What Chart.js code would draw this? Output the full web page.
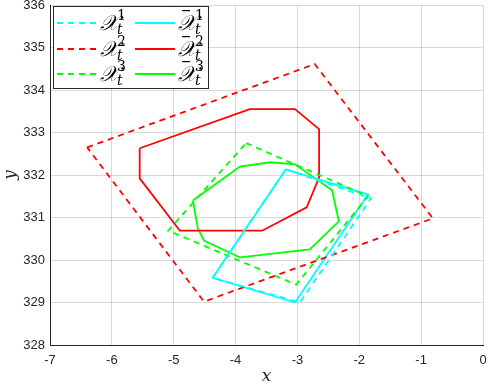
<!DOCTYPE html>
<html>
<head>
<meta charset="utf-8">
<script src="https://cdn.jsdelivr.net/npm/chart.js@4"></script>
<style>
  html, body { margin: 0; padding: 0; background: #fff; }
  #wrap { width: 488px; height: 387px; }
</style>
</head>
<body>
<div id="wrap"><canvas id="c" width="488" height="387"></canvas></div>
<script>
// Vertices of each set (closed polygons, first point repeated at the end)
const cyanDashX = [-3.19, -1.81, -2.96, -4.37, -3.19];
const cyanDashY = [332.13, 331.45, 329.00, 329.58, 332.13];

const redDashX = [-6.40, -2.72, -0.81, -4.51, -6.40];
const redDashY = [332.65, 334.61, 330.98, 329.02, 332.65];

const greenDashX = [-3.83, -1.86, -3.02, -5.09, -3.83];
const greenDashY = [332.75, 331.50, 329.42, 330.69, 332.75];

const cyanSolidX = [-3.19, -1.86, -3.04, -4.37, -3.19];
const cyanSolidY = [332.13, 331.54, 329.00, 329.58, 332.13];

const redSolidX = [-5.55, -3.77, -3.04, -2.65, -2.65, -2.85, -3.57, -4.90, -5.55, -5.55];
const redSolidY = [332.63, 333.55, 333.55, 333.08, 331.94, 331.24, 330.69, 330.69, 331.92, 332.63];

const greenSolidX = [-4.69, -4.61, -4.51, -3.93, -2.80, -2.33, -2.44, -3.04, -3.44, -3.93, -4.69];
const greenSolidY = [331.40, 330.74, 330.46, 330.06, 330.25, 330.91, 331.64, 332.25, 332.30, 332.20, 331.40];

const xTicks = [-7, -6, -5, -4, -3, -2, -1, 0];
const yTicks = [328, 329, 330, 331, 332, 333, 334, 335, 336];

const CYAN = '#00ffff', RED = '#ff0000', GREEN = '#00ff00';
const DASH = [6, 5];

function pts(xs, ys) {
    return xs.map((x, i) => ({ x: x, y: ys[i] }));
}

function ds(label, xs, ys, color, dashed, sup) {
    return {
        label: label,
        data: pts(xs, ys),
        showLine: true,
        borderColor: color,
        backgroundColor: color,
        borderWidth: 1.8,
        borderDash: dashed ? DASH : [],
        pointRadius: 0,
        tension: 0,
        fill: false,
        sup: sup,
        bar: !dashed
    };
}

// Legend drawn by hand so the sub/superscripts come out like the original
const mathLegend = {
    id: 'mathLegend',
    afterDraw(chart) {
        const ctx = chart.ctx;
        const bx = 53.5, by = 6.5, bw = 155, bh = 82;
        ctx.save();
        ctx.fillStyle = '#fff';
        ctx.fillRect(bx, by, bw, bh);
        ctx.strokeStyle = '#262626';
        ctx.lineWidth = 1;
        ctx.strokeRect(bx, by, bw, bh);

        const rows = [23, 49, 74];
        const cols = [57, 135];
        // column 0 = dashed (0,1,2), column 1 = solid (3,4,5)
        chart.data.datasets.forEach((d, i) => {
            const col = i < 3 ? 0 : 1;
            const y = rows[i % 3];
            const x0 = cols[col];
            ctx.beginPath();
            ctx.setLineDash(d.borderDash);
            ctx.strokeStyle = d.borderColor;
            ctx.lineWidth = 2;
            ctx.moveTo(x0, y);
            ctx.lineTo(x0 + 40, y);
            ctx.stroke();
            ctx.setLineDash([]);

            const tx = x0 + 43;
            ctx.fillStyle = '#000';
            ctx.textBaseline = 'alphabetic';
            ctx.font = 'italic 21px "DejaVu Serif"';
            ctx.fillText('\u{1D4B3}', tx, y + 7);
            const w = ctx.measureText('\u{1D4B3}').width;
            if (d.bar) {
                ctx.fillRect(tx + 4, y - 13, w - 10, 1.2);
            }
            ctx.font = 'italic 14px "DejaVu Serif"';
            ctx.fillText('t', tx + w - 1, y + 11);
            ctx.font = '14px "DejaVu Serif"';
            ctx.fillText(String(d.sup), tx + w - 1, y - 3);
        });
        ctx.restore();
    }
};

new Chart(document.getElementById('c'), {
    type: 'scatter',
    data: {
        datasets: [
            ds('X1', cyanDashX, cyanDashY, CYAN, true, 1),
            ds('X2', redDashX, redDashY, RED, true, 2),
            ds('X3', greenDashX, greenDashY, GREEN, true, 3),
            ds('Xbar1', cyanSolidX, cyanSolidY, CYAN, false, 1),
            ds('Xbar2', redSolidX, redSolidY, RED, false, 2),
            ds('Xbar3', greenSolidX, greenSolidY, GREEN, false, 3)
        ]
    },
    plugins: [mathLegend],
    options: {
        responsive: false,
        animation: false,
        layout: { padding: { left: 0, right: 5, top: 5, bottom: 0 } },
        plugins: { legend: { display: false }, tooltip: { enabled: false } },
        scales: {
            x: {
                type: 'linear',
                min: -7, max: 0,
                afterBuildTicks: s => { s.ticks = xTicks.map(v => ({ value: v })); },
                afterFit: s => { s.height = 42; s.paddingLeft = 0; s.paddingRight = 0; },
                grid: { color: 'rgba(0,0,0,0.15)', drawTicks: false },
                border: { color: '#262626', width: 1 },
                ticks: { color: '#262626', font: { family: '"Liberation Sans", Arial', size: 13 }, padding: 8 },
                title: { display: true, text: 'x', color: '#262626', font: { family: '"DejaVu Serif"', style: 'italic', size: 17 }, padding: { top: 2, bottom: 0 } }
            },
            y: {
                type: 'linear',
                min: 328, max: 336,
                afterBuildTicks: s => { s.ticks = yTicks.map(v => ({ value: v })); },
                afterFit: s => { s.width = 50; s.paddingTop = 0; s.paddingBottom = 0; },
                grid: { color: 'rgba(0,0,0,0.15)', drawTicks: false },
                border: { color: '#262626', width: 1 },
                ticks: { color: '#262626', font: { family: '"Liberation Sans", Arial', size: 13 }, padding: 5 },
                title: { display: true, text: 'y', color: '#262626', font: { family: '"DejaVu Serif"', style: 'italic', size: 17 }, padding: { top: 0, bottom: 0 } }
            }
        }
    }
});
</script>
</body>
</html>
